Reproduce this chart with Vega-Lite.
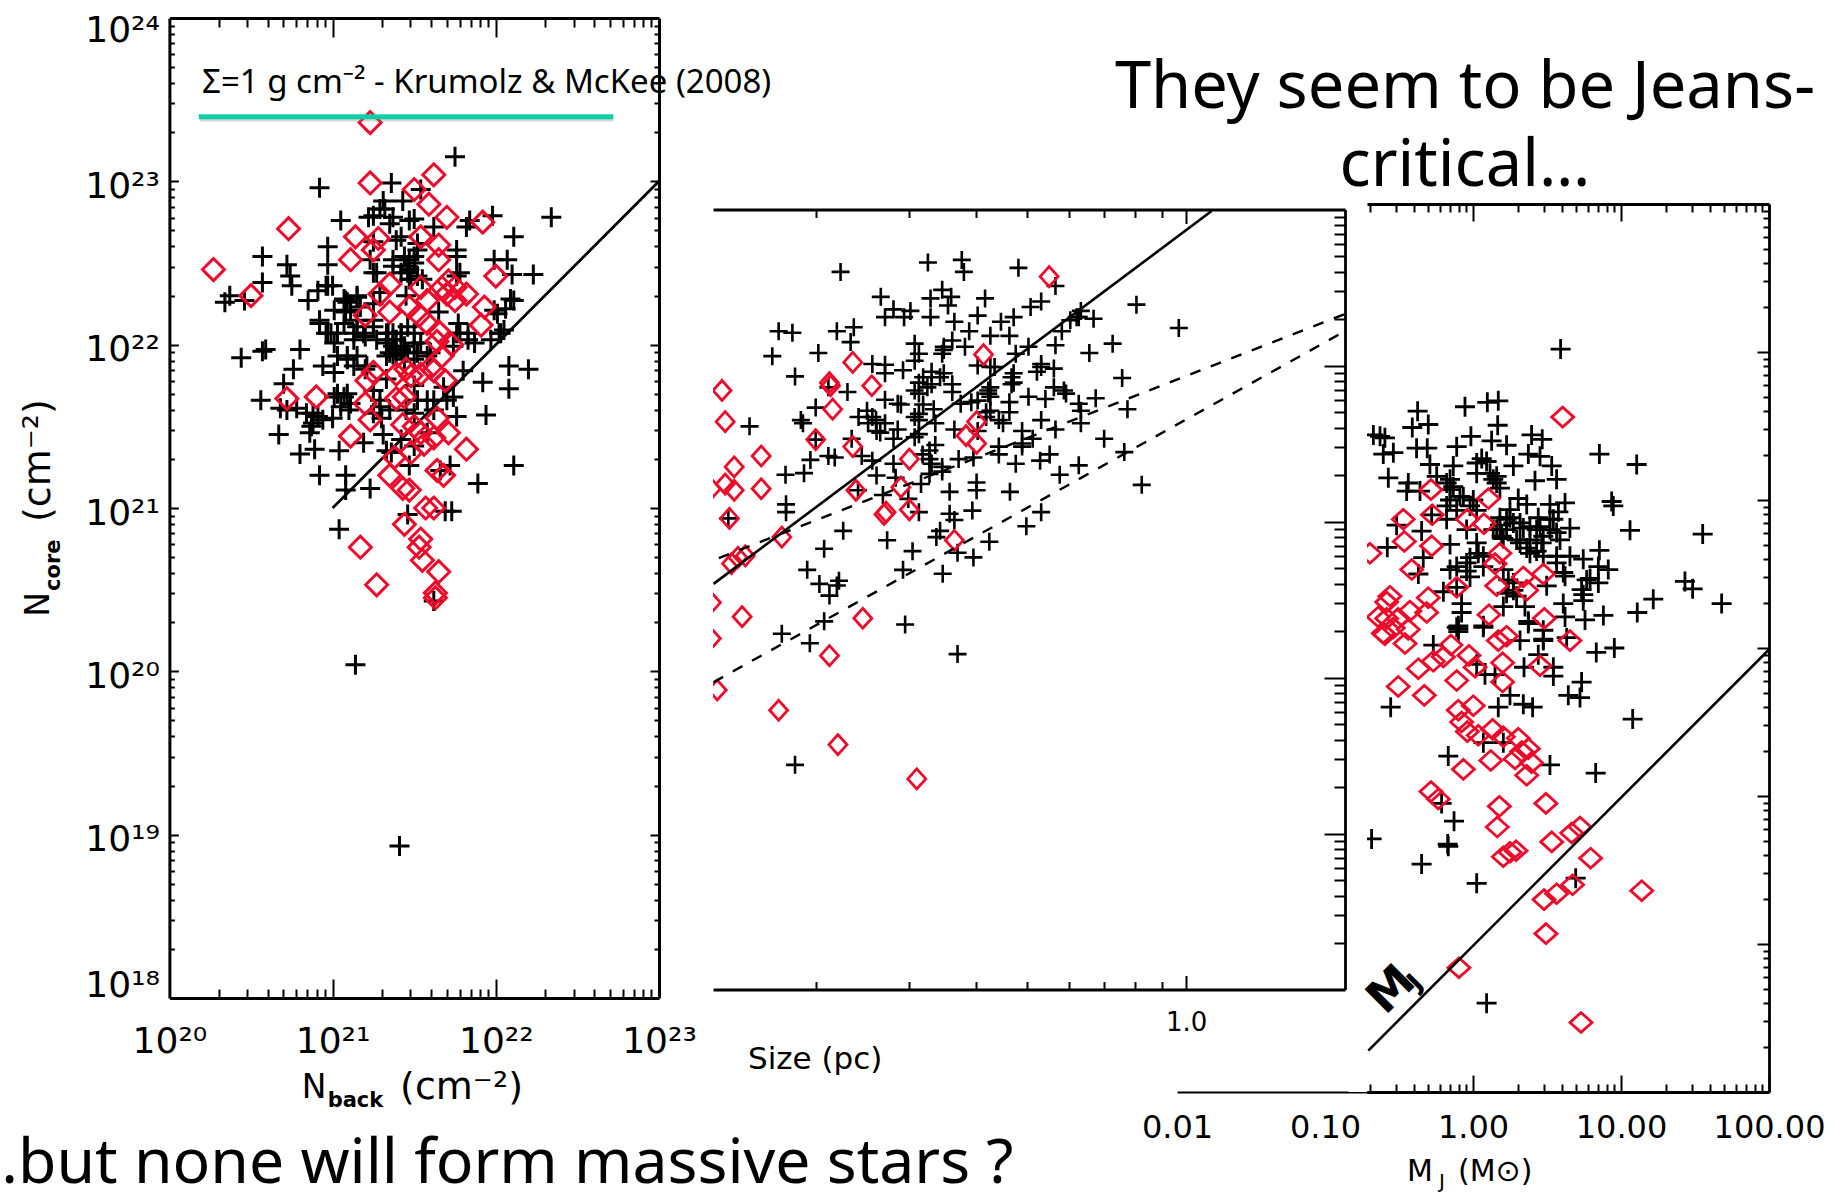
{"$schema":"https://vega.github.io/schema/vega-lite/v6.json","width":1845,"height":1193,"autosize":{"type":"none"},"padding":0,"background":"white",
"config":{"view":{"stroke":null},"axis":{"grid":false,"title":null,"labels":false,"ticks":false,"domain":false,"domainColor":"black","tickColor":"black","labelColor":"black","labelFont":"DejaVu Sans","labelOverlap":false,"labelBound":false,"labelFlush":false}},
"datasets":{
"anchor":[{"x":0,"y":0}],
"p1_plus":[{"x":21.75,"y":23.15},{"x":20.92,"y":22.96},{"x":21.36,"y":22.99},{"x":21.54,"y":22.95},{"x":22.34,"y":22.78},{"x":21.98,"y":22.79},{"x":21.31,"y":22.88},{"x":21.43,"y":22.88},{"x":21.32,"y":22.83},{"x":21.05,"y":22.76},{"x":21.22,"y":22.78},{"x":21.37,"y":22.78},{"x":21.47,"y":22.76},{"x":21.62,"y":22.72},{"x":21.82,"y":22.72},{"x":21.84,"y":22.76},{"x":22.11,"y":22.66},{"x":20.97,"y":22.6},{"x":20.57,"y":22.54},{"x":20.72,"y":22.49},{"x":20.97,"y":22.49},{"x":21.39,"y":22.64},{"x":21.25,"y":22.63},{"x":21.76,"y":22.58},{"x":22.07,"y":22.52},{"x":21.99,"y":22.52},{"x":22.1,"y":22.43},{"x":22.23,"y":22.43},{"x":21.76,"y":22.42},{"x":21.47,"y":22.52},{"x":21.52,"y":22.58},{"x":21.47,"y":22.46},{"x":21.37,"y":22.48},{"x":21.47,"y":22.4},{"x":21.25,"y":22.44},{"x":20.57,"y":22.38},{"x":20.74,"y":22.42},{"x":20.75,"y":22.36},{"x":20.96,"y":22.36},{"x":20.91,"y":22.33},{"x":21.0,"y":22.36},{"x":20.37,"y":22.3},{"x":20.34,"y":22.26},{"x":20.46,"y":22.27},{"x":20.85,"y":22.27},{"x":21.08,"y":22.27},{"x":21.15,"y":22.29},{"x":22.11,"y":22.27},{"x":22.06,"y":22.22},{"x":20.92,"y":22.15},{"x":20.96,"y":22.07},{"x":21.08,"y":22.2},{"x":21.15,"y":22.15},{"x":21.03,"y":22.07},{"x":21.13,"y":22.07},{"x":21.25,"y":22.15},{"x":21.37,"y":22.03},{"x":21.34,"y":22.07},{"x":21.39,"y":21.97},{"x":21.44,"y":21.99},{"x":21.37,"y":21.94},{"x":21.42,"y":22.07},{"x":21.52,"y":21.95},{"x":21.78,"y":22.07},{"x":21.83,"y":22.03},{"x":22.02,"y":22.07},{"x":20.59,"y":21.97},{"x":20.44,"y":21.92},{"x":20.57,"y":21.96},{"x":20.8,"y":21.97},{"x":20.76,"y":21.85},{"x":20.7,"y":21.76},{"x":20.56,"y":21.66},{"x":20.68,"y":21.61},{"x":20.78,"y":21.61},{"x":20.94,"y":21.87},{"x":21.01,"y":21.83},{"x":21.09,"y":21.93},{"x":21.15,"y":21.93},{"x":21.03,"y":21.7},{"x":21.09,"y":21.7},{"x":20.88,"y":21.58},{"x":20.91,"y":21.56},{"x":20.87,"y":21.5},{"x":20.67,"y":21.45},{"x":20.86,"y":21.46},{"x":20.8,"y":21.33},{"x":20.89,"y":21.36},{"x":21.04,"y":21.35},{"x":20.92,"y":21.2},{"x":21.08,"y":21.2},{"x":21.08,"y":21.11},{"x":21.23,"y":21.12},{"x":21.31,"y":21.45},{"x":21.19,"y":21.4},{"x":21.33,"y":21.35},{"x":21.29,"y":21.66},{"x":21.25,"y":21.72},{"x":21.33,"y":21.79},{"x":21.33,"y":22.01},{"x":21.39,"y":22.03},{"x":21.35,"y":21.95},{"x":21.42,"y":21.97},{"x":21.37,"y":22.07},{"x":21.5,"y":22.01},{"x":21.46,"y":21.95},{"x":21.54,"y":22.01},{"x":21.8,"y":21.84},{"x":21.92,"y":21.77},{"x":22.08,"y":21.87},{"x":22.2,"y":21.85},{"x":22.08,"y":21.73},{"x":21.94,"y":21.57},{"x":22.11,"y":21.26},{"x":21.89,"y":21.15},{"x":21.72,"y":21.26},{"x":21.66,"y":21.23},{"x":21.73,"y":20.98},{"x":21.69,"y":20.98},{"x":21.46,"y":20.96},{"x":21.04,"y":20.87},{"x":21.62,"y":20.43},{"x":21.58,"y":21.66},{"x":21.62,"y":21.6},{"x":21.74,"y":21.68},{"x":21.47,"y":21.26},{"x":21.36,"y":21.34},{"x":22.03,"y":22.07},{"x":21.99,"y":22.21},{"x":22.09,"y":22.28},{"x":21.74,"y":21.99},{"x":21.83,"y":22.07},{"x":21.77,"y":22.13},{"x":21.14,"y":20.04},{"x":21.41,"y":18.93},{"x":21.45,"y":21.6},{"x":21.3,"y":21.55},{"x":21.5,"y":21.75},{"x":21.2,"y":21.85},{"x":21.6,"y":21.95},{"x":21.65,"y":22.2},{"x":21.25,"y":22.25},{"x":21.45,"y":22.3},{"x":21.55,"y":22.4},{"x":21.2,"y":22.05},{"x":21.1,"y":21.6},{"x":21.0,"y":21.55},{"x":21.35,"y":21.6},{"x":20.92,"y":22.13},{"x":20.99,"y":22.07},{"x":21.07,"y":22.28},{"x":21.11,"y":22.21},{"x":21.15,"y":22.11},{"x":21.07,"y":22.13},{"x":20.97,"y":22.07},{"x":21.01,"y":22.01},{"x":21.13,"y":22.03},{"x":21.19,"y":22.07},{"x":21.09,"y":21.91},{"x":21.13,"y":21.87},{"x":21.03,"y":21.93},{"x":21.21,"y":21.87},{"x":21.27,"y":22.03},{"x":21.25,"y":22.11},{"x":21.5,"y":21.91},{"x":21.58,"y":21.93},{"x":21.76,"y":22.07},{"x":21.87,"y":22.01},{"x":21.97,"y":22.03},{"x":22.01,"y":22.19},{"x":22.05,"y":22.09},{"x":21.52,"y":21.66},{"x":21.68,"y":21.74},{"x":21.25,"y":22.79},{"x":21.29,"y":22.83},{"x":21.35,"y":22.74},{"x":21.42,"y":22.66},{"x":21.5,"y":22.54},{"x":21.46,"y":22.48},{"x":21.42,"y":22.44},{"x":21.52,"y":22.62},{"x":21.5,"y":22.77},{"x":21.23,"y":22.52},{"x":21.27,"y":22.44},{"x":21.37,"y":22.52},{"x":21.76,"y":22.54},{"x":21.78,"y":22.44},{"x":20.97,"y":22.36},{"x":21.09,"y":22.26},{"x":21.01,"y":22.21},{"x":21.15,"y":22.3},{"x":21.17,"y":22.23},{"x":21.29,"y":22.32},{"x":21.33,"y":22.07},{"x":21.37,"y":21.99},{"x":21.42,"y":22.07},{"x":21.33,"y":21.93},{"x":21.39,"y":21.93},{"x":21.44,"y":21.91},{"x":21.5,"y":22.07},{"x":21.46,"y":22.11},{"x":21.44,"y":22.54},{"x":21.48,"y":22.4},{"x":21.46,"y":22.44},{"x":21.52,"y":22.42},{"x":21.5,"y":22.5},{"x":21.29,"y":21.62},{"x":21.25,"y":21.58},{"x":21.5,"y":21.58},{"x":21.62,"y":21.66},{"x":20.88,"y":21.52},{"x":20.94,"y":21.54},{"x":20.84,"y":21.58},{"x":21.07,"y":21.68},{"x":21.01,"y":21.68},{"x":21.05,"y":21.62},{"x":21.11,"y":21.64},{"x":20.72,"y":21.6},{"x":21.76,"y":21.56},{"x":21.7,"y":21.66},{"x":21.58,"y":21.46},{"x":21.42,"y":21.42},{"x":21.5,"y":21.38}],
"p1_diamond":[{"x":21.23,"y":23.36},{"x":21.23,"y":22.99},{"x":21.62,"y":23.04},{"x":21.5,"y":22.95},{"x":21.59,"y":22.86},{"x":21.7,"y":22.78},{"x":21.92,"y":22.75},{"x":20.73,"y":22.71},{"x":21.14,"y":22.66},{"x":21.28,"y":22.65},{"x":21.54,"y":22.66},{"x":21.65,"y":22.61},{"x":21.25,"y":22.58},{"x":21.11,"y":22.52},{"x":21.65,"y":22.52},{"x":20.27,"y":22.46},{"x":22.0,"y":22.42},{"x":20.5,"y":22.3},{"x":21.35,"y":22.37},{"x":21.29,"y":22.31},{"x":21.54,"y":22.35},{"x":21.71,"y":22.39},{"x":21.67,"y":22.35},{"x":21.75,"y":22.35},{"x":21.82,"y":22.31},{"x":21.7,"y":22.31},{"x":21.58,"y":22.27},{"x":21.47,"y":22.23},{"x":21.53,"y":22.18},{"x":21.35,"y":22.2},{"x":21.2,"y":22.18},{"x":21.75,"y":22.27},{"x":21.93,"y":22.23},{"x":21.91,"y":22.12},{"x":21.58,"y":22.13},{"x":21.65,"y":22.08},{"x":21.73,"y":22.0},{"x":21.64,"y":22.02},{"x":21.67,"y":21.93},{"x":21.6,"y":21.86},{"x":21.69,"y":21.78},{"x":21.25,"y":21.83},{"x":21.21,"y":21.78},{"x":21.45,"y":21.85},{"x":21.39,"y":21.82},{"x":21.48,"y":21.81},{"x":21.54,"y":21.82},{"x":21.62,"y":21.84},{"x":21.44,"y":21.68},{"x":21.39,"y":21.67},{"x":21.2,"y":21.64},{"x":20.72,"y":21.67},{"x":20.9,"y":21.68},{"x":21.23,"y":21.54},{"x":21.11,"y":21.44},{"x":21.43,"y":21.51},{"x":21.5,"y":21.5},{"x":21.64,"y":21.55},{"x":21.54,"y":21.46},{"x":21.71,"y":21.46},{"x":21.62,"y":21.43},{"x":21.56,"y":21.39},{"x":21.82,"y":21.36},{"x":21.48,"y":21.34},{"x":21.38,"y":21.31},{"x":21.35,"y":21.2},{"x":21.43,"y":21.12},{"x":21.47,"y":21.11},{"x":21.64,"y":21.23},{"x":21.68,"y":21.2},{"x":21.57,"y":21.0},{"x":21.62,"y":21.0},{"x":21.44,"y":20.9},{"x":21.54,"y":20.81},{"x":21.53,"y":20.76},{"x":21.55,"y":20.68},{"x":21.17,"y":20.76},{"x":21.27,"y":20.53},{"x":21.65,"y":20.61},{"x":21.63,"y":20.48},{"x":21.63,"y":20.45}],
"p1_line":[{"x":21,"y":21},{"x":23,"y":23}],
"p1_teal":[{"x":20.18,"y":23.395},{"x":22.72,"y":23.395}],
"p1_shadow":[{"x":20.19,"y":23.378},{"x":22.72,"y":23.378}],
"p2_plus":[{"x":-0.488,"y":22.66},{"x":-0.424,"y":22.677},{"x":-0.42,"y":22.6},{"x":-0.317,"y":22.626},{"x":-0.653,"y":22.6},{"x":-0.247,"y":22.51},{"x":-0.577,"y":22.44},{"x":-0.461,"y":22.485},{"x":-0.444,"y":22.44},{"x":-0.483,"y":22.43},{"x":-0.38,"y":22.43},{"x":-0.45,"y":22.385},{"x":-0.274,"y":22.41},{"x":-0.294,"y":22.375},{"x":-0.199,"y":22.35},{"x":-0.094,"y":22.39},{"x":-0.553,"y":22.36},{"x":-0.521,"y":22.35},{"x":-0.569,"y":22.31},{"x":-0.533,"y":22.31},{"x":-0.483,"y":22.31},{"x":-0.394,"y":22.32},{"x":-0.35,"y":22.28},{"x":-0.326,"y":22.31},{"x":-0.207,"y":22.31},{"x":-0.175,"y":22.3},{"x":-0.438,"y":22.28},{"x":-0.77,"y":22.22},{"x":-0.744,"y":22.21},{"x":-0.66,"y":22.22},{"x":-0.628,"y":22.245},{"x":-0.41,"y":22.22},{"x":-0.235,"y":22.22},{"x":-0.014,"y":22.24},{"x":-0.634,"y":22.15},{"x":-0.37,"y":22.19},{"x":-0.334,"y":22.19},{"x":-0.513,"y":22.14},{"x":-0.442,"y":22.16},{"x":-0.458,"y":22.12},{"x":-0.418,"y":22.12},{"x":-0.298,"y":22.12},{"x":-0.247,"y":22.13},{"x":-0.139,"y":22.14},{"x":-0.695,"y":22.08},{"x":-0.782,"y":22.06},{"x":-0.183,"y":22.08},{"x":-0.505,"y":22.075},{"x":-0.461,"y":22.075},{"x":-0.322,"y":22.075},{"x":-0.513,"y":22.03},{"x":-0.593,"y":22.01},{"x":-0.569,"y":22.005},{"x":-0.274,"y":21.99},{"x":-0.394,"y":22.0},{"x":-0.37,"y":21.99},{"x":-0.569,"y":21.95},{"x":-0.535,"y":21.97},{"x":-0.481,"y":21.96},{"x":-0.458,"y":21.95},{"x":-0.326,"y":21.95},{"x":-0.282,"y":21.96},{"x":-0.25,"y":21.98},{"x":-0.121,"y":21.92},{"x":-0.739,"y":21.93},{"x":-0.505,"y":21.89},{"x":-0.442,"y":21.88},{"x":-0.489,"y":21.86},{"x":-0.374,"y":21.84},{"x":-0.33,"y":21.88},{"x":-0.25,"y":21.86},{"x":-0.231,"y":21.84},{"x":-0.64,"y":21.83},{"x":-0.676,"y":21.86},{"x":-0.505,"y":21.82},{"x":-0.569,"y":21.78},{"x":-0.539,"y":21.75},{"x":-0.442,"y":21.83},{"x":-0.298,"y":21.8},{"x":-0.266,"y":21.785},{"x":-0.203,"y":21.755},{"x":-0.171,"y":21.79},{"x":-0.406,"y":21.765},{"x":-0.37,"y":21.8},{"x":-0.334,"y":21.765},{"x":-0.111,"y":21.72},{"x":-0.7,"y":21.73},{"x":-0.603,"y":21.71},{"x":-0.477,"y":21.72},{"x":-0.505,"y":21.69},{"x":-0.378,"y":21.7},{"x":-0.334,"y":21.7},{"x":-0.199,"y":21.71},{"x":-0.619,"y":21.67},{"x":-0.586,"y":21.65},{"x":-0.724,"y":21.63},{"x":-0.825,"y":21.61},{"x":-0.545,"y":21.59},{"x":-0.505,"y":21.65},{"x":-0.474,"y":21.63},{"x":-0.438,"y":21.59},{"x":-0.354,"y":21.65},{"x":-0.274,"y":21.65},{"x":-0.199,"y":21.63},{"x":-0.247,"y":21.59},{"x":-0.31,"y":21.58},{"x":-0.578,"y":21.57},{"x":-0.394,"y":21.58},{"x":-0.553,"y":21.53},{"x":-0.513,"y":21.54},{"x":-0.632,"y":21.53},{"x":-0.7,"y":21.525},{"x":-0.474,"y":21.49},{"x":-0.29,"y":21.53},{"x":-0.31,"y":21.48},{"x":-0.354,"y":21.48},{"x":-0.155,"y":21.53},{"x":-0.117,"y":21.445},{"x":-0.498,"y":21.43},{"x":-0.676,"y":21.42},{"x":-0.664,"y":21.41},{"x":-0.71,"y":21.395},{"x":-0.613,"y":21.42},{"x":-0.593,"y":21.39},{"x":-0.485,"y":21.4},{"x":-0.43,"y":21.4},{"x":-0.402,"y":21.41},{"x":-0.354,"y":21.43},{"x":-0.258,"y":21.43},{"x":-0.322,"y":21.37},{"x":-0.276,"y":21.39},{"x":-0.553,"y":21.37},{"x":-0.203,"y":21.36},{"x":-0.722,"y":21.31},{"x":-0.757,"y":21.3},{"x":-0.461,"y":21.32},{"x":-0.239,"y":21.3},{"x":-0.585,"y":21.295},{"x":-0.549,"y":21.28},{"x":-0.396,"y":21.25},{"x":-0.084,"y":21.235},{"x":-0.501,"y":21.24},{"x":-0.62,"y":21.2},{"x":-0.447,"y":21.19},{"x":-0.396,"y":21.2},{"x":-0.333,"y":21.19},{"x":-0.573,"y":21.17},{"x":-0.525,"y":21.145},{"x":-0.756,"y":21.11},{"x":-0.756,"y":21.06},{"x":-0.505,"y":21.06},{"x":-0.447,"y":21.05},{"x":-0.404,"y":21.07},{"x":-0.274,"y":21.06},{"x":-0.438,"y":21.01},{"x":-0.865,"y":21.02},{"x":-0.302,"y":20.97},{"x":-0.465,"y":20.94},{"x":-0.648,"y":20.94},{"x":-0.565,"y":20.88},{"x":-0.472,"y":20.9},{"x":-0.372,"y":20.87},{"x":-0.684,"y":20.825},{"x":-0.517,"y":20.81},{"x":-0.432,"y":20.8},{"x":-0.402,"y":20.77},{"x":-0.716,"y":20.69},{"x":-0.535,"y":20.69},{"x":-0.46,"y":20.665},{"x":-0.656,"y":20.62},{"x":-0.693,"y":20.6},{"x":-0.66,"y":20.59},{"x":-0.674,"y":20.525},{"x":-0.684,"y":20.36},{"x":-0.531,"y":20.34},{"x":-0.764,"y":20.28},{"x":-0.711,"y":20.22},{"x":-0.432,"y":20.15},{"x":-0.739,"y":19.44},{"x":-0.497,"y":21.925},{"x":-0.465,"y":21.925},{"x":-0.481,"y":21.88},{"x":-0.513,"y":21.84},{"x":-0.497,"y":21.75},{"x":-0.362,"y":21.99},{"x":-0.33,"y":21.925},{"x":-0.326,"y":21.89},{"x":-0.37,"y":21.86},{"x":-0.374,"y":21.82},{"x":-0.37,"y":21.71},{"x":-0.378,"y":21.67},{"x":-0.346,"y":21.63},{"x":-0.593,"y":21.67},{"x":-0.601,"y":21.63},{"x":-0.569,"y":21.63},{"x":-0.513,"y":21.67},{"x":-0.505,"y":21.56},{"x":-0.485,"y":21.455},{"x":-0.481,"y":21.37},{"x":-0.461,"y":21.35},{"x":-0.485,"y":21.305},{"x":-0.31,"y":21.5},{"x":-0.458,"y":22.1},{"x":-0.426,"y":21.755},{"x":-0.394,"y":21.775},{"x":-0.585,"y":21.58},{"x":-0.728,"y":21.65},{"x":-0.274,"y":22.01},{"x":-0.545,"y":21.755},{"x":-0.227,"y":21.82},{"x":-0.203,"y":22.31},{"x":-0.219,"y":22.29}],
"p2_diamond":[{"x":-0.259,"y":22.57},{"x":-0.383,"y":22.07},{"x":-0.63,"y":22.02},{"x":-0.674,"y":21.89},{"x":-0.672,"y":21.87},{"x":-0.877,"y":21.84},{"x":-0.594,"y":21.87},{"x":-0.668,"y":21.72},{"x":-0.871,"y":21.64},{"x":-0.396,"y":21.64},{"x":-0.416,"y":21.55},{"x":-0.396,"y":21.5},{"x":-0.7,"y":21.525},{"x":-0.63,"y":21.48},{"x":-0.803,"y":21.42},{"x":-0.523,"y":21.4},{"x":-0.854,"y":21.35},{"x":-0.871,"y":21.24},{"x":-0.854,"y":21.2},{"x":-0.803,"y":21.21},{"x":-0.624,"y":21.2},{"x":-0.539,"y":21.22},{"x":-0.567,"y":21.06},{"x":-0.571,"y":21.045},{"x":-0.523,"y":21.075},{"x":-0.863,"y":21.02},{"x":-0.764,"y":20.9},{"x":-0.438,"y":20.88},{"x":-0.833,"y":20.78},{"x":-0.847,"y":20.77},{"x":-0.859,"y":20.73},{"x":-0.839,"y":20.39},{"x":-0.611,"y":20.38},{"x":-0.897,"y":20.48},{"x":-0.897,"y":20.25},{"x":-0.897,"y":21.21},{"x":-0.674,"y":20.14},{"x":-0.77,"y":19.79},{"x":-0.886,"y":19.92},{"x":-0.658,"y":19.57},{"x":-0.509,"y":19.35}],
"p2_solid":[{"x":-0.893,"y":20.6},{"x":0.048,"y":22.99}],
"p2_dash1":[{"x":-0.883,"y":20.765},{"x":0.3,"y":22.33}],
"p2_dash2":[{"x":-0.893,"y":19.97},{"x":0.3,"y":22.22}],
"p3_plus":[{"x":0.592,"y":23.02},{"x":-0.374,"y":22.6},{"x":-0.054,"y":22.63},{"x":0.097,"y":22.66},{"x":0.171,"y":22.67},{"x":-0.41,"y":22.49},{"x":-0.302,"y":22.51},{"x":0.167,"y":22.505},{"x":-0.673,"y":22.44},{"x":-0.628,"y":22.43},{"x":-0.595,"y":22.42},{"x":-0.014,"y":22.43},{"x":0.126,"y":22.4},{"x":0.227,"y":22.37},{"x":0.396,"y":22.44},{"x":0.468,"y":22.41},{"x":-0.381,"y":22.35},{"x":-0.309,"y":22.35},{"x":-0.11,"y":22.36},{"x":-0.606,"y":22.31},{"x":-0.538,"y":22.32},{"x":0.854,"y":22.31},{"x":1.106,"y":22.24},{"x":0.374,"y":22.31},{"x":0.453,"y":22.295},{"x":0.059,"y":22.28},{"x":-0.291,"y":22.24},{"x":-0.133,"y":22.23},{"x":0.273,"y":22.23},{"x":0.532,"y":22.23},{"x":0.025,"y":22.25},{"x":-0.572,"y":22.15},{"x":-0.437,"y":22.115},{"x":0.419,"y":22.13},{"x":0.565,"y":22.14},{"x":0.137,"y":22.14},{"x":-0.245,"y":22.16},{"x":-0.155,"y":22.14},{"x":-0.448,"y":22.06},{"x":-0.358,"y":22.06},{"x":0.182,"y":22.08},{"x":-0.155,"y":22.07},{"x":-0.088,"y":22.025},{"x":0.002,"y":22.0},{"x":0.306,"y":22.01},{"x":0.52,"y":21.97},{"x":0.622,"y":21.98},{"x":0.937,"y":21.99},{"x":0.948,"y":21.96},{"x":0.363,"y":21.97},{"x":0.25,"y":21.935},{"x":0.577,"y":21.92},{"x":-0.178,"y":21.96},{"x":-0.279,"y":21.9},{"x":0.441,"y":21.88},{"x":0.52,"y":21.87},{"x":0.25,"y":21.88},{"x":0.182,"y":21.83},{"x":1.061,"y":21.795},{"x":1.552,"y":21.77},{"x":0.655,"y":21.81},{"x":-0.516,"y":21.83},{"x":-0.347,"y":21.79},{"x":-0.178,"y":21.87},{"x":-0.043,"y":21.8},{"x":0.137,"y":21.8},{"x":0.227,"y":21.8},{"x":0.34,"y":21.81},{"x":0.43,"y":21.8},{"x":0.52,"y":21.8},{"x":0.588,"y":21.73},{"x":0.295,"y":21.73},{"x":0.385,"y":21.73},{"x":0.205,"y":21.74},{"x":0.464,"y":21.71},{"x":-0.579,"y":21.68},{"x":-0.155,"y":21.7},{"x":0.025,"y":21.71},{"x":0.854,"y":21.66},{"x":0.385,"y":21.64},{"x":0.07,"y":21.62},{"x":-0.02,"y":21.61},{"x":0.655,"y":21.62},{"x":0.745,"y":21.6},{"x":-0.336,"y":21.61},{"x":0.475,"y":21.62},{"x":0.565,"y":21.575},{"x":0.914,"y":21.53},{"x":0.847,"y":21.55},{"x":-0.155,"y":21.53},{"x":-0.043,"y":21.52},{"x":0.205,"y":21.53},{"x":-0.369,"y":21.5},{"x":0.622,"y":21.485},{"x":0.791,"y":21.47},{"x":0.847,"y":21.44},{"x":0.273,"y":21.44},{"x":0.498,"y":21.42},{"x":1.432,"y":21.45},{"x":1.484,"y":21.4},{"x":0.745,"y":21.36},{"x":1.218,"y":21.33},{"x":1.68,"y":21.3},{"x":-0.2,"y":21.38},{"x":0.61,"y":21.3},{"x":0.351,"y":21.28},{"x":0.205,"y":21.28},{"x":-0.077,"y":21.3},{"x":1.11,"y":21.24},{"x":0.881,"y":21.22},{"x":0.622,"y":21.21},{"x":0.757,"y":21.19},{"x":0.374,"y":21.18},{"x":-0.077,"y":21.24},{"x":-0.11,"y":21.14},{"x":0.07,"y":21.15},{"x":-0.099,"y":21.13},{"x":0.07,"y":21.14},{"x":0.374,"y":21.165},{"x":0.475,"y":21.05},{"x":0.318,"y":21.05},{"x":0.633,"y":21.07},{"x":0.833,"y":20.97},{"x":0.955,"y":21.0},{"x":-0.268,"y":21.02},{"x":0.441,"y":20.955},{"x":0.025,"y":20.89},{"x":0.543,"y":20.87},{"x":0.543,"y":20.81},{"x":0.081,"y":20.82},{"x":0.149,"y":20.82},{"x":0.345,"y":20.87},{"x":0.734,"y":20.77},{"x":0.644,"y":20.68},{"x":0.723,"y":20.665},{"x":0.25,"y":20.68},{"x":0.34,"y":20.62},{"x":0.403,"y":20.6},{"x":0.171,"y":20.6},{"x":-0.556,"y":20.6},{"x":1.079,"y":20.52},{"x":0.07,"y":20.36},{"x":0.205,"y":20.36},{"x":-0.167,"y":20.27},{"x":0.52,"y":20.21},{"x":0.829,"y":20.155},{"x":-0.212,"y":19.95},{"x":-0.128,"y":19.83},{"x":-0.685,"y":19.71},{"x":-0.167,"y":19.66},{"x":-0.171,"y":19.675},{"x":-0.347,"y":19.54},{"x":0.025,"y":19.41},{"x":0.694,"y":19.445},{"x":0.092,"y":18.6},{"x":-0.065,"y":22.02},{"x":-0.02,"y":21.96},{"x":-0.155,"y":22.0},{"x":-0.11,"y":21.93},{"x":0.025,"y":21.93},{"x":0.16,"y":22.16},{"x":0.115,"y":22.18},{"x":0.16,"y":22.115},{"x":0.092,"y":22.26},{"x":0.025,"y":22.18},{"x":-0.178,"y":22.115},{"x":-0.133,"y":22.09},{"x":0.182,"y":21.88},{"x":0.227,"y":21.87},{"x":0.273,"y":21.845},{"x":0.16,"y":21.8},{"x":0.194,"y":21.755},{"x":0.318,"y":21.845},{"x":0.385,"y":21.82},{"x":0.453,"y":21.82},{"x":0.318,"y":21.71},{"x":0.363,"y":21.675},{"x":0.43,"y":21.655},{"x":0.475,"y":21.755},{"x":0.543,"y":21.87},{"x":0.565,"y":21.78},{"x":0.239,"y":21.46},{"x":0.273,"y":21.39},{"x":0.227,"y":21.37},{"x":0.295,"y":21.35},{"x":0.734,"y":21.395},{"x":0.745,"y":21.32},{"x":-0.02,"y":21.48},{"x":0.07,"y":21.55},{"x":-0.043,"y":21.575},{"x":-0.11,"y":21.55},{"x":0.036,"y":21.64},{"x":-0.11,"y":21.41},{"x":-0.099,"y":21.15},{"x":-0.099,"y":21.11},{"x":0.475,"y":21.12},{"x":0.475,"y":21.06},{"x":0.565,"y":21.62},{"x":0.61,"y":21.51},{"x":0.768,"y":21.46}],
"p3_diamond":[{"x":0.606,"y":22.56},{"x":-0.284,"y":22.07},{"x":0.104,"y":22.01},{"x":-0.471,"y":21.87},{"x":-0.275,"y":21.9},{"x":-0.038,"y":21.87},{"x":0.074,"y":21.84},{"x":-0.464,"y":21.72},{"x":-0.279,"y":21.69},{"x":-0.696,"y":21.64},{"x":0.182,"y":21.64},{"x":0.149,"y":21.57},{"x":-0.414,"y":21.53},{"x":0.34,"y":21.48},{"x":0.475,"y":21.5},{"x":0.16,"y":21.42},{"x":0.363,"y":21.39},{"x":-0.11,"y":21.41},{"x":-0.561,"y":21.35},{"x":-0.302,"y":21.34},{"x":-0.583,"y":21.31},{"x":-0.426,"y":21.25},{"x":-0.313,"y":21.24},{"x":-0.64,"y":21.21},{"x":-0.583,"y":21.2},{"x":-0.505,"y":21.2},{"x":-0.606,"y":21.1},{"x":-0.538,"y":21.135},{"x":-0.437,"y":21.125},{"x":0.108,"y":21.225},{"x":0.482,"y":21.2},{"x":-0.595,"y":21.09},{"x":-0.459,"y":21.03},{"x":0.227,"y":21.08},{"x":0.171,"y":21.05},{"x":0.655,"y":21.05},{"x":-0.149,"y":21.02},{"x":-0.027,"y":20.95},{"x":-0.2,"y":20.94},{"x":-0.268,"y":20.91},{"x":-0.369,"y":20.86},{"x":0.014,"y":20.87},{"x":0.2,"y":20.9},{"x":0.453,"y":20.88},{"x":-0.505,"y":20.74},{"x":-0.11,"y":20.78},{"x":0.2,"y":20.77},{"x":-0.329,"y":20.68},{"x":0.002,"y":20.61},{"x":-0.099,"y":20.58},{"x":-0.077,"y":20.5},{"x":-0.038,"y":20.435},{"x":0.036,"y":20.41},{"x":0.133,"y":20.45},{"x":0.205,"y":20.4},{"x":0.306,"y":20.39},{"x":0.374,"y":20.32},{"x":0.329,"y":20.3},{"x":0.284,"y":20.25},{"x":0.396,"y":20.225},{"x":0.363,"y":20.14},{"x":0.12,"y":20.24},{"x":-0.065,"y":20.18},{"x":-0.284,"y":20.03},{"x":-0.234,"y":19.98},{"x":0.178,"y":19.93},{"x":0.164,"y":19.79},{"x":0.493,"y":19.95},{"x":0.532,"y":19.69},{"x":0.667,"y":19.75},{"x":0.723,"y":19.79},{"x":0.795,"y":19.58},{"x":0.291,"y":19.63},{"x":0.25,"y":19.62},{"x":0.205,"y":19.59},{"x":0.673,"y":19.4},{"x":0.565,"y":19.34},{"x":0.48,"y":19.3},{"x":1.14,"y":19.36},{"x":0.493,"y":19.07},{"x":-0.095,"y":18.84},{"x":0.73,"y":18.47}],
"p3_line":[{"x":-0.707,"y":18.28},{"x":2,"y":20.99}]
},
"resolve":{"scale":{"x":"independent","y":"independent"}},
"layer":[
{"data":{"name":"p2_plus"},"mark":{"type":"point","filled":false,"opacity":1,"shape":"M-1,0L1,0M0,-1L0,1","size":324,"stroke":"black","strokeWidth":2.6},"encoding":{"x":{"field":"x","type":"quantitative","axis":null,"scale":{"domain":[-0.894,0.3],"range":[713,1345],"nice":false,"zero":false}},"y":{"field":"y","type":"quantitative","axis":null,"scale":{"domain":[18,23],"range":[989.5,209.5],"nice":false,"zero":false}}}},
{"data":{"name":"p2_diamond"},"mark":{"type":"point","filled":false,"opacity":1,"shape":"M-0.9,0L0,-1L0.9,0L0,1Z","size":400,"stroke":"#ee0a2a","strokeWidth":2.8},"encoding":{"x":{"field":"x","type":"quantitative","axis":null,"scale":{"domain":[-0.894,0.3],"range":[713,1345],"nice":false,"zero":false}},"y":{"field":"y","type":"quantitative","axis":null,"scale":{"domain":[18,23],"range":[989.5,209.5],"nice":false,"zero":false}}}},
{"data":{"name":"p2_solid"},"mark":{"type":"line","stroke":"black","strokeWidth":2.6},"encoding":{"x":{"field":"x","type":"quantitative","axis":null,"scale":{"domain":[-0.894,0.3],"range":[713,1345],"nice":false,"zero":false}},"y":{"field":"y","type":"quantitative","axis":null,"scale":{"domain":[18,23],"range":[989.5,209.5],"nice":false,"zero":false}}}},
{"data":{"name":"p2_dash1"},"mark":{"type":"line","stroke":"black","strokeWidth":2.4,"strokeDash":[11,11]},"encoding":{"x":{"field":"x","type":"quantitative","axis":null,"scale":{"domain":[-0.894,0.3],"range":[713,1345],"nice":false,"zero":false}},"y":{"field":"y","type":"quantitative","axis":null,"scale":{"domain":[18,23],"range":[989.5,209.5],"nice":false,"zero":false}}}},
{"data":{"name":"p2_dash2"},"mark":{"type":"line","stroke":"black","strokeWidth":2.4,"strokeDash":[11,11]},"encoding":{"x":{"field":"x","type":"quantitative","axis":null,"scale":{"domain":[-0.894,0.3],"range":[713,1345],"nice":false,"zero":false}},"y":{"field":"y","type":"quantitative","axis":null,"scale":{"domain":[18,23],"range":[989.5,209.5],"nice":false,"zero":false}}}},
{"data":{"values":[{"x":-0.925,"x2":-0.894,"y":18,"y2":23}]},"mark":{"type":"rect","fill":"white"},"encoding":{"x":{"field":"x","type":"quantitative","axis":null,"scale":{"domain":[-0.894,0.3],"range":[713,1345],"nice":false,"zero":false}},"x2":{"field":"x2"},"y":{"field":"y","type":"quantitative","axis":null,"scale":{"domain":[18,23],"range":[989.5,209.5],"nice":false,"zero":false}},"y2":{"field":"y2"}}},
{"data":{"name":"anchor"},"mark":{"type":"point","opacity":0},"encoding":{"x":{"field":"x","type":"quantitative","scale":{"domain":[-0.894,0.3],"range":[713,1345],"nice":false,"zero":false},"axis":{"orient":"bottom","offset":-203.5,"domain":true,"domainWidth":2.8,"labels":true,"values":[0],"labelExpr":"'1.0'","labelFontSize":26,"labelPadding":20}},"y":{"field":"y","type":"quantitative","axis":null,"scale":{"domain":[18,23],"range":[989.5,209.5],"nice":false,"zero":false}}}},
{"data":{"name":"anchor"},"mark":{"type":"point","opacity":0},"encoding":{"x":{"field":"x","type":"quantitative","scale":{"domain":[-0.894,0.3],"range":[713,1345],"nice":false,"zero":false},"axis":{"orient":"bottom","offset":-203.5,"ticks":true,"tickSize":-14,"tickWidth":2,"values":[0]}},"y":{"field":"y","type":"quantitative","scale":{"domain":[18,23],"range":[989.5,209.5],"nice":false,"zero":false},"axis":{"orient":"right","offset":-500,"domain":true,"domainWidth":2.8,"ticks":true,"tickSize":-21,"tickWidth":2,"values":[19,20,21,22]}}}},
{"data":{"name":"anchor"},"mark":{"type":"point","opacity":0},"encoding":{"x":{"field":"x","type":"quantitative","scale":{"domain":[-0.894,0.3],"range":[713,1345],"nice":false,"zero":false},"axis":{"orient":"bottom","offset":-203.5,"ticks":true,"tickSize":-8,"tickWidth":2,"values":[-0.699,-0.523,-0.398,-0.301,-0.222,-0.155,-0.097,-0.046]}},"y":{"field":"y","type":"quantitative","scale":{"domain":[18,23],"range":[989.5,209.5],"nice":false,"zero":false},"axis":{"orient":"right","offset":-500,"ticks":true,"tickSize":-11,"tickWidth":2,"values":[18.301,18.477,18.602,18.699,18.778,18.845,18.903,18.954,19.301,19.477,19.602,19.699,19.778,19.845,19.903,19.954,20.301,20.477,20.602,20.699,20.778,20.845,20.903,20.954,21.301,21.477,21.602,21.699,21.778,21.845,21.903,21.954,22.301,22.477,22.602,22.699,22.778,22.845,22.903,22.954]}}}},
{"data":{"name":"anchor"},"mark":{"type":"point","opacity":0},"encoding":{"x":{"field":"x","type":"quantitative","scale":{"domain":[-0.894,0.3],"range":[713,1345],"nice":false,"zero":false},"axis":{"orient":"top","offset":-209.5,"domain":true,"domainWidth":2.8,"ticks":true,"tickSize":-14,"tickWidth":2,"values":[0]}},"y":{"field":"y","type":"quantitative","axis":null,"scale":{"domain":[18,23],"range":[989.5,209.5],"nice":false,"zero":false}}}},
{"data":{"name":"anchor"},"mark":{"type":"point","opacity":0},"encoding":{"x":{"field":"x","type":"quantitative","scale":{"domain":[-0.894,0.3],"range":[713,1345],"nice":false,"zero":false},"axis":{"orient":"top","offset":-209.5,"ticks":true,"tickSize":-8,"tickWidth":2,"values":[-0.699,-0.523,-0.398,-0.301,-0.222,-0.155,-0.097,-0.046]}},"y":{"field":"y","type":"quantitative","axis":null,"scale":{"domain":[18,23],"range":[989.5,209.5],"nice":false,"zero":false}}}},
{"data":{"values":[{"t":"Size (pc)","x":-0.701,"y":17.55}]},"mark":{"type":"text","font":"DejaVu Sans","fontSize":31,"align":"center","baseline":"middle","fill":"black"},"encoding":{"text":{"field":"t"},"x":{"field":"x","type":"quantitative","axis":null,"scale":{"domain":[-0.894,0.3],"range":[713,1345],"nice":false,"zero":false}},"y":{"field":"y","type":"quantitative","axis":null,"scale":{"domain":[18,23],"range":[989.5,209.5],"nice":false,"zero":false}}}},

{"data":{"name":"p3_plus"},"mark":{"type":"point","filled":false,"opacity":1,"shape":"M-1,0L1,0M0,-1L0,1","size":400,"stroke":"black","strokeWidth":2.8},"encoding":{"x":{"field":"x","type":"quantitative","axis":null,"scale":{"domain":[-0.716,2],"range":[1367,1769],"nice":false,"zero":false}},"y":{"field":"y","type":"quantitative","axis":null,"scale":{"domain":[18,24],"range":[1092,204],"nice":false,"zero":false}}}},
{"data":{"name":"p3_diamond"},"mark":{"type":"point","filled":false,"opacity":1,"shape":"M-1,0L0,-0.9L1,0L0,0.9Z","size":484,"stroke":"#ee0a2a","strokeWidth":2.8},"encoding":{"x":{"field":"x","type":"quantitative","axis":null,"scale":{"domain":[-0.716,2],"range":[1367,1769],"nice":false,"zero":false}},"y":{"field":"y","type":"quantitative","axis":null,"scale":{"domain":[18,24],"range":[1092,204],"nice":false,"zero":false}}}},
{"data":{"name":"p3_line"},"mark":{"type":"line","stroke":"black","strokeWidth":2.6},"encoding":{"x":{"field":"x","type":"quantitative","axis":null,"scale":{"domain":[-0.716,2],"range":[1367,1769],"nice":false,"zero":false}},"y":{"field":"y","type":"quantitative","axis":null,"scale":{"domain":[18,24],"range":[1092,204],"nice":false,"zero":false}}}},
{"data":{"values":[{"x":-0.84,"x2":-0.716,"y":18,"y2":24}]},"mark":{"type":"rect","fill":"white"},"encoding":{"x":{"field":"x","type":"quantitative","axis":null,"scale":{"domain":[-0.716,2],"range":[1367,1769],"nice":false,"zero":false}},"x2":{"field":"x2"},"y":{"field":"y","type":"quantitative","axis":null,"scale":{"domain":[18,24],"range":[1092,204],"nice":false,"zero":false}},"y2":{"field":"y2"}}},
{"data":{"name":"anchor"},"mark":{"type":"point","opacity":0},"encoding":{"x":{"field":"x","type":"quantitative","scale":{"domain":[-2,2],"range":[1177,1769],"nice":false,"zero":false},"axis":{"orient":"bottom","offset":-101,"domain":true,"domainWidth":2,"labels":true,"values":[-2,-1,0,1,2],"labelExpr":"format(pow(10,datum.value),'.2f')","labelFontSize":32,"labelPadding":20}},"y":{"field":"y","type":"quantitative","axis":null,"scale":{"domain":[18,24],"range":[1092,204],"nice":false,"zero":false}}}},
{"data":{"name":"anchor"},"mark":{"type":"point","opacity":0},"encoding":{"x":{"field":"x","type":"quantitative","scale":{"domain":[-0.716,2],"range":[1367,1769],"nice":false,"zero":false},"axis":{"orient":"bottom","offset":-101,"domain":true,"domainWidth":2.8,"ticks":true,"tickSize":-17,"tickWidth":2,"values":[0,1,2]}},"y":{"field":"y","type":"quantitative","scale":{"domain":[18,24],"range":[1092,204],"nice":false,"zero":false},"axis":{"orient":"right","offset":-76,"domain":true,"domainWidth":2.8,"ticks":true,"tickSize":-12,"tickWidth":2,"values":[19,20,21,22,23]}}}},
{"data":{"name":"anchor"},"mark":{"type":"point","opacity":0},"encoding":{"x":{"field":"x","type":"quantitative","scale":{"domain":[-0.716,2],"range":[1367,1769],"nice":false,"zero":false},"axis":{"orient":"bottom","offset":-101,"ticks":true,"tickSize":-8,"tickWidth":2,"values":[-0.699,-0.523,-0.398,-0.301,-0.222,-0.155,-0.097,-0.046,0.301,0.477,0.602,0.699,0.778,0.845,0.903,0.954,1.301,1.477,1.602,1.699,1.778,1.845,1.903,1.954]}},"y":{"field":"y","type":"quantitative","scale":{"domain":[18,24],"range":[1092,204],"nice":false,"zero":false},"axis":{"orient":"right","offset":-76,"ticks":true,"tickSize":-6,"tickWidth":2,"values":[18.301,18.477,18.602,18.699,18.778,18.845,18.903,18.954,19.301,19.477,19.602,19.699,19.778,19.845,19.903,19.954,20.301,20.477,20.602,20.699,20.778,20.845,20.903,20.954,21.301,21.477,21.602,21.699,21.778,21.845,21.903,21.954,22.301,22.477,22.602,22.699,22.778,22.845,22.903,22.954,23.301,23.477,23.602,23.699,23.778,23.845,23.903,23.954]}}}},
{"data":{"name":"anchor"},"mark":{"type":"point","opacity":0},"encoding":{"x":{"field":"x","type":"quantitative","scale":{"domain":[-0.716,2],"range":[1367,1769],"nice":false,"zero":false},"axis":{"orient":"top","offset":-204,"domain":true,"domainWidth":2.8,"ticks":true,"tickSize":-17,"tickWidth":2,"values":[0,1,2]}},"y":{"field":"y","type":"quantitative","axis":null,"scale":{"domain":[18,24],"range":[1092,204],"nice":false,"zero":false}}}},
{"data":{"name":"anchor"},"mark":{"type":"point","opacity":0},"encoding":{"x":{"field":"x","type":"quantitative","scale":{"domain":[-0.716,2],"range":[1367,1769],"nice":false,"zero":false},"axis":{"orient":"top","offset":-204,"ticks":true,"tickSize":-8,"tickWidth":2,"values":[-0.699,-0.523,-0.398,-0.301,-0.222,-0.155,-0.097,-0.046,0.301,0.477,0.602,0.699,0.778,0.845,0.903,0.954,1.301,1.477,1.602,1.699,1.778,1.845,1.903,1.954]}},"y":{"field":"y","type":"quantitative","axis":null,"scale":{"domain":[18,24],"range":[1092,204],"nice":false,"zero":false}}}},
{"data":{"values":[{"t":"M","x":-0.55,"y":18.69}]},"mark":{"type":"text","font":"DejaVu Sans","fontWeight":"bold","fontSize":46,"angle":-45,"align":"center","baseline":"middle","fill":"black"},"encoding":{"text":{"field":"t"},"x":{"field":"x","type":"quantitative","axis":null,"scale":{"domain":[-0.716,2],"range":[1367,1769],"nice":false,"zero":false}},"y":{"field":"y","type":"quantitative","axis":null,"scale":{"domain":[18,24],"range":[1092,204],"nice":false,"zero":false}}}},
{"data":{"values":[{"t":"J","x":-0.39,"y":18.74}]},"mark":{"type":"text","font":"DejaVu Sans","fontWeight":"bold","fontSize":26,"angle":-45,"align":"center","baseline":"middle","fill":"black"},"encoding":{"text":{"field":"t"},"x":{"field":"x","type":"quantitative","axis":null,"scale":{"domain":[-0.716,2],"range":[1367,1769],"nice":false,"zero":false}},"y":{"field":"y","type":"quantitative","axis":null,"scale":{"domain":[18,24],"range":[1092,204],"nice":false,"zero":false}}}},
{"data":{"values":[{"t":"M","x":-0.358,"y":17.46},{"t":"(M⊙)","x":0.15,"y":17.46}]},"mark":{"type":"text","font":"DejaVu Sans","fontSize":30,"align":"center","baseline":"middle","fill":"black"},"encoding":{"text":{"field":"t"},"x":{"field":"x","type":"quantitative","axis":null,"scale":{"domain":[-0.716,2],"range":[1367,1769],"nice":false,"zero":false}},"y":{"field":"y","type":"quantitative","axis":null,"scale":{"domain":[18,24],"range":[1092,204],"nice":false,"zero":false}}}},
{"data":{"values":[{"t":"J","x":-0.209,"y":17.395}]},"mark":{"type":"text","font":"DejaVu Sans","fontSize":20,"align":"center","baseline":"middle","fill":"black"},"encoding":{"text":{"field":"t"},"x":{"field":"x","type":"quantitative","axis":null,"scale":{"domain":[-0.716,2],"range":[1367,1769],"nice":false,"zero":false}},"y":{"field":"y","type":"quantitative","axis":null,"scale":{"domain":[18,24],"range":[1092,204],"nice":false,"zero":false}}}},
{"data":{"values":[{"t":"They seem to be Jeans-","x":-0.054,"y":24.784},{"t":"critical…","x":-0.054,"y":24.256}]},"mark":{"type":"text","font":"Noto Sans","fontSize":65,"align":"center","baseline":"middle","fill":"black"},"encoding":{"text":{"field":"t"},"x":{"field":"x","type":"quantitative","axis":null,"scale":{"domain":[-0.716,2],"range":[1367,1769],"nice":false,"zero":false}},"y":{"field":"y","type":"quantitative","axis":null,"scale":{"domain":[18,24],"range":[1092,204],"nice":false,"zero":false}}}},

{"data":{"name":"p1_plus"},"mark":{"type":"point","filled":false,"opacity":1,"shape":"M-1,0L1,0M0,-1L0,1","size":400,"stroke":"black","strokeWidth":3},"encoding":{"x":{"field":"x","type":"quantitative","axis":null,"scale":{"domain":[20,23],"range":[169.4,659],"nice":false,"zero":false}},"y":{"field":"y","type":"quantitative","axis":null,"scale":{"domain":[18,24],"range":[998,18],"nice":false,"zero":false}}}},
{"data":{"name":"p1_line"},"mark":{"type":"line","stroke":"black","strokeWidth":2.8},"encoding":{"x":{"field":"x","type":"quantitative","axis":null,"scale":{"domain":[20,23],"range":[169.4,659],"nice":false,"zero":false}},"y":{"field":"y","type":"quantitative","axis":null,"scale":{"domain":[18,24],"range":[998,18],"nice":false,"zero":false}}}},
{"data":{"name":"p1_diamond"},"mark":{"type":"point","filled":false,"opacity":1,"shape":"M-1,0L0,-1L1,0L0,1Z","size":484,"stroke":"#ee0a2a","strokeWidth":3},"encoding":{"x":{"field":"x","type":"quantitative","axis":null,"scale":{"domain":[20,23],"range":[169.4,659],"nice":false,"zero":false}},"y":{"field":"y","type":"quantitative","axis":null,"scale":{"domain":[18,24],"range":[998,18],"nice":false,"zero":false}}}},
{"data":{"name":"p1_shadow"},"mark":{"type":"line","stroke":"#888888","strokeWidth":4,"opacity":0.35},"encoding":{"x":{"field":"x","type":"quantitative","axis":null,"scale":{"domain":[20,23],"range":[169.4,659],"nice":false,"zero":false}},"y":{"field":"y","type":"quantitative","axis":null,"scale":{"domain":[18,24],"range":[998,18],"nice":false,"zero":false}}}},
{"data":{"name":"p1_teal"},"mark":{"type":"line","stroke":"#0ccfa8","strokeWidth":5},"encoding":{"x":{"field":"x","type":"quantitative","axis":null,"scale":{"domain":[20,23],"range":[169.4,659],"nice":false,"zero":false}},"y":{"field":"y","type":"quantitative","axis":null,"scale":{"domain":[18,24],"range":[998,18],"nice":false,"zero":false}}}},
{"data":{"name":"anchor"},"mark":{"type":"point","opacity":0},"encoding":{"x":{"field":"x","type":"quantitative","scale":{"domain":[20,23],"range":[169.4,659],"nice":false,"zero":false},"axis":{"orient":"bottom","offset":-195,"domain":true,"domainWidth":3,"labels":true,"values":[20,21,22,23],"labelExpr":"'10'+['²⁰','²¹','²²','²³'][datum.value-20]","labelFontSize":36,"labelPadding":26}},"y":{"field":"y","type":"quantitative","scale":{"domain":[18,24],"range":[998,18],"nice":false,"zero":false},"axis":{"orient":"left","offset":-169.4,"domain":true,"domainWidth":3,"labels":true,"values":[18,19,20,21,22,23,24],"labelExpr":"'10'+['¹⁸','¹⁹','²⁰','²¹','²²','²³','²⁴'][datum.value-18]","labelFontSize":36,"labelPadding":10,"labelOffset":{"condition":[{"test":"datum.value==24","value":12},{"test":"datum.value==18","value":-13}],"value":5}}}}},
{"data":{"name":"anchor"},"mark":{"type":"point","opacity":0},"encoding":{"x":{"field":"x","type":"quantitative","scale":{"domain":[20,23],"range":[169.4,659],"nice":false,"zero":false},"axis":{"orient":"bottom","offset":-195,"ticks":true,"tickSize":-19,"tickWidth":2,"values":[21,22]}},"y":{"field":"y","type":"quantitative","scale":{"domain":[18,24],"range":[998,18],"nice":false,"zero":false},"axis":{"orient":"left","offset":-169.4,"ticks":true,"tickSize":-9,"tickWidth":2,"values":[19,20,21,22,23]}}}},
{"data":{"name":"anchor"},"mark":{"type":"point","opacity":0},"encoding":{"x":{"field":"x","type":"quantitative","scale":{"domain":[20,23],"range":[169.4,659],"nice":false,"zero":false},"axis":{"orient":"bottom","offset":-195,"ticks":true,"tickSize":-9,"tickWidth":2,"values":[20.301,20.477,20.602,20.699,20.778,20.845,20.903,20.954,21.301,21.477,21.602,21.699,21.778,21.845,21.903,21.954,22.301,22.477,22.602,22.699,22.778,22.845,22.903,22.954]}},"y":{"field":"y","type":"quantitative","scale":{"domain":[18,24],"range":[998,18],"nice":false,"zero":false},"axis":{"orient":"left","offset":-169.4,"ticks":true,"tickSize":-5,"tickWidth":2,"values":[18.301,18.477,18.602,18.699,18.778,18.845,18.903,18.954,19.301,19.477,19.602,19.699,19.778,19.845,19.903,19.954,20.301,20.477,20.602,20.699,20.778,20.845,20.903,20.954,21.301,21.477,21.602,21.699,21.778,21.845,21.903,21.954,22.301,22.477,22.602,22.699,22.778,22.845,22.903,22.954,23.301,23.477,23.602,23.699,23.778,23.845,23.903,23.954]}}}},
{"data":{"name":"anchor"},"mark":{"type":"point","opacity":0},"encoding":{"x":{"field":"x","type":"quantitative","scale":{"domain":[20,23],"range":[169.4,659],"nice":false,"zero":false},"axis":{"orient":"top","offset":-18,"domain":true,"domainWidth":3,"ticks":true,"tickSize":-19,"tickWidth":2,"values":[21,22]}},"y":{"field":"y","type":"quantitative","scale":{"domain":[18,24],"range":[998,18],"nice":false,"zero":false},"axis":{"orient":"right","offset":-1186,"domain":true,"domainWidth":3,"ticks":true,"tickSize":-9,"tickWidth":2,"values":[19,20,21,22,23]}}}},
{"data":{"name":"anchor"},"mark":{"type":"point","opacity":0},"encoding":{"x":{"field":"x","type":"quantitative","scale":{"domain":[20,23],"range":[169.4,659],"nice":false,"zero":false},"axis":{"orient":"top","offset":-18,"ticks":true,"tickSize":-9,"tickWidth":2,"values":[20.301,20.477,20.602,20.699,20.778,20.845,20.903,20.954,21.301,21.477,21.602,21.699,21.778,21.845,21.903,21.954,22.301,22.477,22.602,22.699,22.778,22.845,22.903,22.954]}},"y":{"field":"y","type":"quantitative","scale":{"domain":[18,24],"range":[998,18],"nice":false,"zero":false},"axis":{"orient":"right","offset":-1186,"ticks":true,"tickSize":-5,"tickWidth":2,"values":[18.301,18.477,18.602,18.699,18.778,18.845,18.903,18.954,19.301,19.477,19.602,19.699,19.778,19.845,19.903,19.954,20.301,20.477,20.602,20.699,20.778,20.845,20.903,20.954,21.301,21.477,21.602,21.699,21.778,21.845,21.903,21.954,22.301,22.477,22.602,22.699,22.778,22.845,22.903,22.954,23.301,23.477,23.602,23.699,23.778,23.845,23.903,23.954]}}}},
{"data":{"values":[{"t":"Σ=1 g cm⁻²  - Krumolz & McKee (2008)","x":20.2,"y":23.6}]},"mark":{"type":"text","font":"Noto Sans","fontSize":33,"align":"left","baseline":"middle","fill":"black"},"encoding":{"text":{"field":"t"},"x":{"field":"x","type":"quantitative","axis":null,"scale":{"domain":[20,23],"range":[169.4,659],"nice":false,"zero":false}},"y":{"field":"y","type":"quantitative","axis":null,"scale":{"domain":[18,24],"range":[998,18],"nice":false,"zero":false}}}},
{"data":{"values":[{"t":".but none will form massive stars ?","x":18.97,"y":16.866}]},"mark":{"type":"text","font":"Noto Sans","fontSize":62.5,"align":"left","baseline":"alphabetic","fill":"black"},"encoding":{"text":{"field":"t"},"x":{"field":"x","type":"quantitative","axis":null,"scale":{"domain":[20,23],"range":[169.4,659],"nice":false,"zero":false}},"y":{"field":"y","type":"quantitative","axis":null,"scale":{"domain":[18,24],"range":[998,18],"nice":false,"zero":false}}}},
{"data":{"values":[{"t":"N","x":20.887,"y":17.45}]},"mark":{"type":"text","font":"DejaVu Sans","fontSize":33,"align":"center","baseline":"middle","fill":"black"},"encoding":{"text":{"field":"t"},"x":{"field":"x","type":"quantitative","axis":null,"scale":{"domain":[20,23],"range":[169.4,659],"nice":false,"zero":false}},"y":{"field":"y","type":"quantitative","axis":null,"scale":{"domain":[18,24],"range":[998,18],"nice":false,"zero":false}}}},
{"data":{"values":[{"t":"(cm⁻²)","x":21.79,"y":17.45}]},"mark":{"type":"text","font":"DejaVu Sans","fontSize":38,"align":"center","baseline":"middle","fill":"black"},"encoding":{"text":{"field":"t"},"x":{"field":"x","type":"quantitative","axis":null,"scale":{"domain":[20,23],"range":[169.4,659],"nice":false,"zero":false}},"y":{"field":"y","type":"quantitative","axis":null,"scale":{"domain":[18,24],"range":[998,18],"nice":false,"zero":false}}}},
{"data":{"values":[{"t":"back","x":21.14,"y":17.37}]},"mark":{"type":"text","font":"DejaVu Sans","fontWeight":"bold","fontSize":21,"align":"center","baseline":"middle","fill":"black"},"encoding":{"text":{"field":"t"},"x":{"field":"x","type":"quantitative","axis":null,"scale":{"domain":[20,23],"range":[169.4,659],"nice":false,"zero":false}},"y":{"field":"y","type":"quantitative","axis":null,"scale":{"domain":[18,24],"range":[998,18],"nice":false,"zero":false}}}},
{"data":{"values":[{"t":"N","x":19.2,"y":20.41}]},"mark":{"type":"text","font":"DejaVu Sans","fontSize":33,"angle":270,"align":"center","baseline":"middle","fill":"black"},"encoding":{"text":{"field":"t"},"x":{"field":"x","type":"quantitative","axis":null,"scale":{"domain":[20,23],"range":[169.4,659],"nice":false,"zero":false}},"y":{"field":"y","type":"quantitative","axis":null,"scale":{"domain":[18,24],"range":[998,18],"nice":false,"zero":false}}}},
{"data":{"values":[{"t":"(cm⁻²)","x":19.2,"y":21.29}]},"mark":{"type":"text","font":"DejaVu Sans","fontSize":38,"angle":270,"align":"center","baseline":"middle","fill":"black"},"encoding":{"text":{"field":"t"},"x":{"field":"x","type":"quantitative","axis":null,"scale":{"domain":[20,23],"range":[169.4,659],"nice":false,"zero":false}},"y":{"field":"y","type":"quantitative","axis":null,"scale":{"domain":[18,24],"range":[998,18],"nice":false,"zero":false}}}},
{"data":{"values":[{"t":"core","x":19.29,"y":20.65}]},"mark":{"type":"text","font":"DejaVu Sans","fontWeight":"bold","fontSize":21,"angle":270,"align":"center","baseline":"middle","fill":"black"},"encoding":{"text":{"field":"t"},"x":{"field":"x","type":"quantitative","axis":null,"scale":{"domain":[20,23],"range":[169.4,659],"nice":false,"zero":false}},"y":{"field":"y","type":"quantitative","axis":null,"scale":{"domain":[18,24],"range":[998,18],"nice":false,"zero":false}}}}
]}
